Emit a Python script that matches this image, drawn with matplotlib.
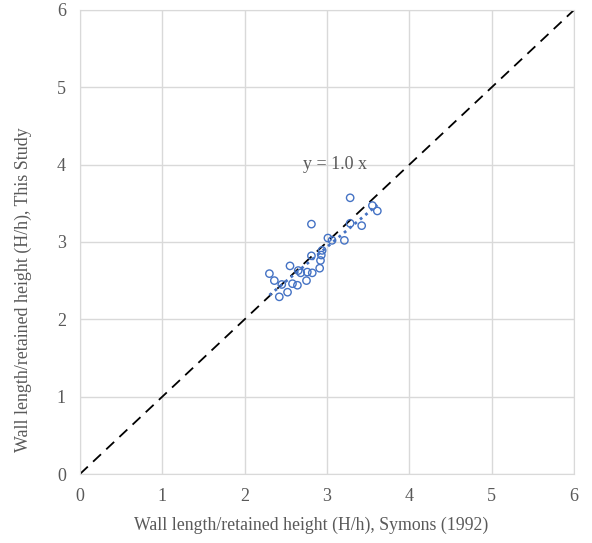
import numpy as np
import matplotlib.pyplot as plt

plt.rcParams['font.family'] = ['Liberation Serif', 'DejaVu Serif']

# H/h ratios: Symons (1992) vs this study
symons = [2.30, 2.36, 2.45, 2.42, 2.52, 2.55, 2.58, 2.64, 2.65, 2.68,
          2.75, 2.76, 2.82, 2.81, 2.81, 2.91, 2.92, 2.93, 2.94, 3.01,
          3.06, 3.21, 3.28, 3.42, 3.28, 3.55, 3.61]
this_study = [2.59, 2.50, 2.45, 2.29, 2.35, 2.69, 2.46, 2.44, 2.63, 2.60,
              2.50, 2.61, 2.60, 2.82, 3.23, 2.66, 2.76, 2.83, 2.89, 3.05,
              3.02, 3.02, 3.24, 3.21, 3.57, 3.47, 3.40]
ticks = [0, 1, 2, 3, 4, 5, 6]

fig = plt.figure(figsize=(5.92, 5.43), dpi=100)
ax = fig.add_axes([0.135, 0.127, 0.835, 0.855])

grey = '#595959'
ax.grid(True, color='#d9d9d9', linewidth=1)
ax.set_axisbelow(True)
for s in ax.spines.values():
    s.set_color('#d9d9d9')

# 1:1 line
ax.plot([0, 6], [0, 6], color='black', linestyle=(0, (6, 4)), linewidth=1.3, zorder=2)

ax.scatter(symons, this_study, s=28, facecolors='none', edgecolors='#4472C4',
           linewidths=1, zorder=3)

# linear trendline over the data range
slope, icpt = np.polyfit(symons, this_study, 1)
xs = np.array([min(symons), max(symons)])
ax.plot(xs, slope * xs + icpt, color='#4472C4', linestyle=(0, (1, 1.5)),
        linewidth=2, zorder=4)

ax.text(3.1, 4.0, 'y = 1.0 x', ha='center', va='center', fontsize=13, color=grey)

ax.set_xlim(0, 6)
ax.set_ylim(0, 6)
ax.set_xticks(ticks)
ax.set_yticks(ticks)
ax.tick_params(length=0, labelsize=13, labelcolor=grey, pad=10)
ax.set_xlabel('Wall length/retained height (H/h), Symons (1992)', fontsize=12.8,
              color=grey, va='center')
ax.set_ylabel('Wall length/retained height (H/h), This Study', fontsize=12.9,
              color=grey, va='center')
ax.xaxis.set_label_coords(0.467, -0.110)
ax.yaxis.set_label_coords(-0.115, 0.397)

fig.savefig('out.png', dpi=100)
